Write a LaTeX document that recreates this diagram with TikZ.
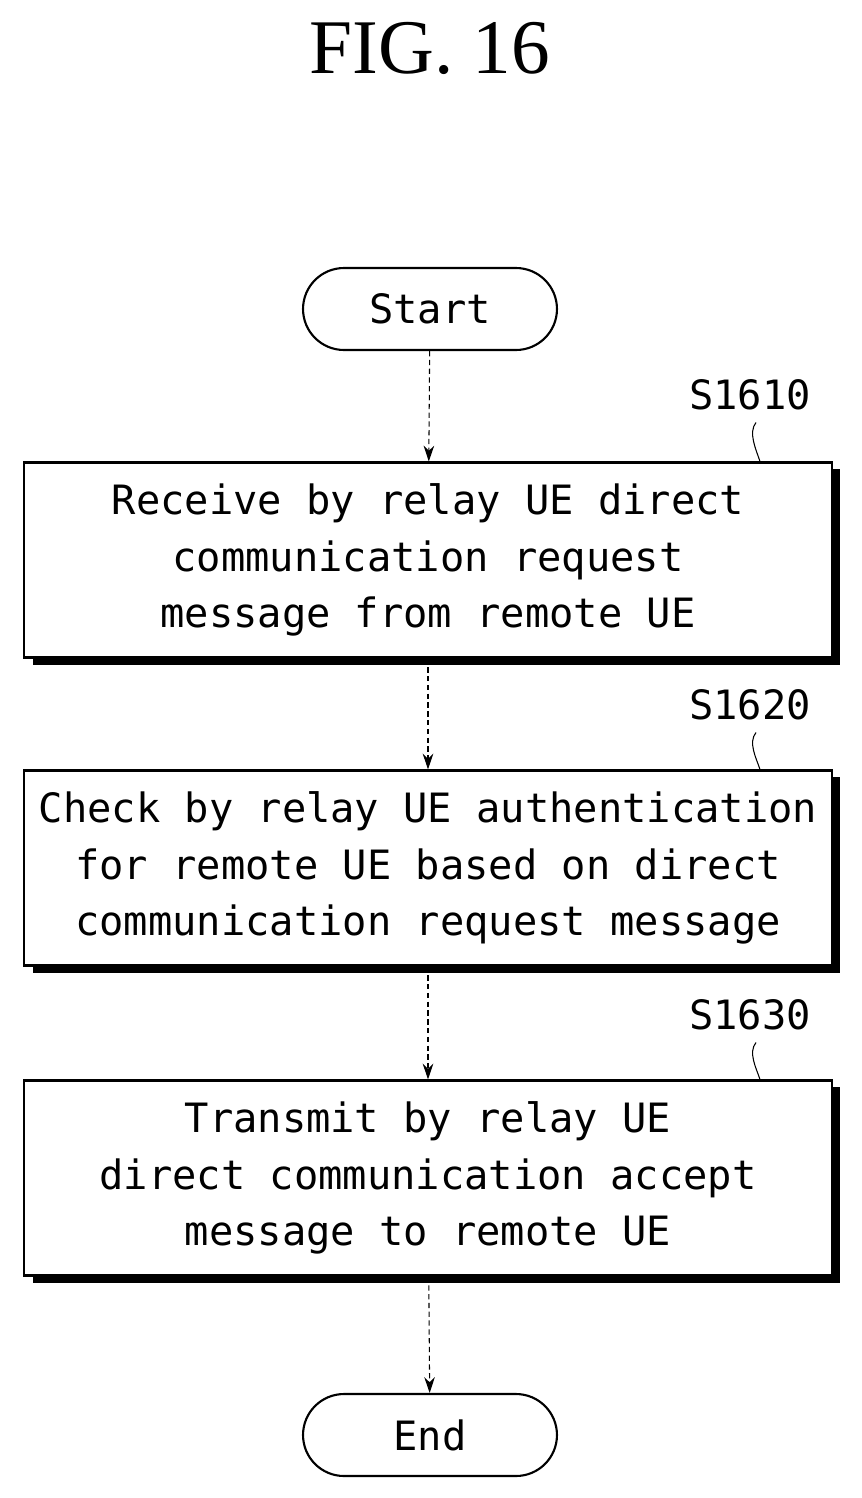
\documentclass[tikz,border=0pt]{standalone}
\usepackage{fontspec}
\newfontfamily\boxfont{DejaVu Sans Mono}
\setmainfont{Liberation Serif}
\usetikzlibrary{arrows.meta,calc}
\begin{document}
\begin{tikzpicture}[x=0.02cm,y=-0.02cm,
  txt/.style={font=\boxfont\fontsize{23}{32}\selectfont,align=center},
  stepbox/.style={draw,line width=1.2pt,minimum width=16.18cm,minimum height=3.9cm,txt,inner sep=0pt,fill=white},
  term/.style={draw,line width=1.2pt,rounded corners=0.82cm,minimum width=5.08cm,minimum height=1.64cm,txt},
  conn/.style={densely dashed,line width=0.6pt,-{Stealth[length=9pt,width=6pt]}},
  lab/.style={font=\boxfont\fontsize{23}{28}\selectfont}]
\useasboundingbox (0,0) rectangle (862,1498);
\node[font=\fontsize{44}{50}\selectfont] (title) at (430,48) {FIG. 16};
\node[term] (start) at (430,309) {Start};
\foreach \n/\y/\t in {a/560/{Receive by relay UE direct\\communication request\\message from remote UE},
  b/868/{Check by relay UE authentication\\for remote UE based on direct\\communication request message},
  c/1178/{Transmit by relay UE\\direct communication accept\\message to remote UE}}{
  \fill (33,\y-91) rectangle (840,\y+105);
  \node[stepbox] (\n) at (428,\y) {\t};
}
\node[term] (end) at (430,1435) {End};
\node[lab] (la) at (750,395) {S1610};
\node[lab] (lb) at (750,705) {S1620};
\node[lab] (lc) at (750,1015) {S1630};
\foreach \l/\b in {la/a,lb/b,lc/c}
  \draw[line width=0.6pt] ($(\l.south)+(6,6)$) .. controls +(-8,10) and +(-4,-12) .. ($(\b.north)+(332,0)$);
\draw[conn] (start) -- (a);
\draw[conn] (a) -- (b);
\draw[conn] (b) -- (c);
\draw[conn] (c) -- (end);
\end{tikzpicture}
\end{document}
